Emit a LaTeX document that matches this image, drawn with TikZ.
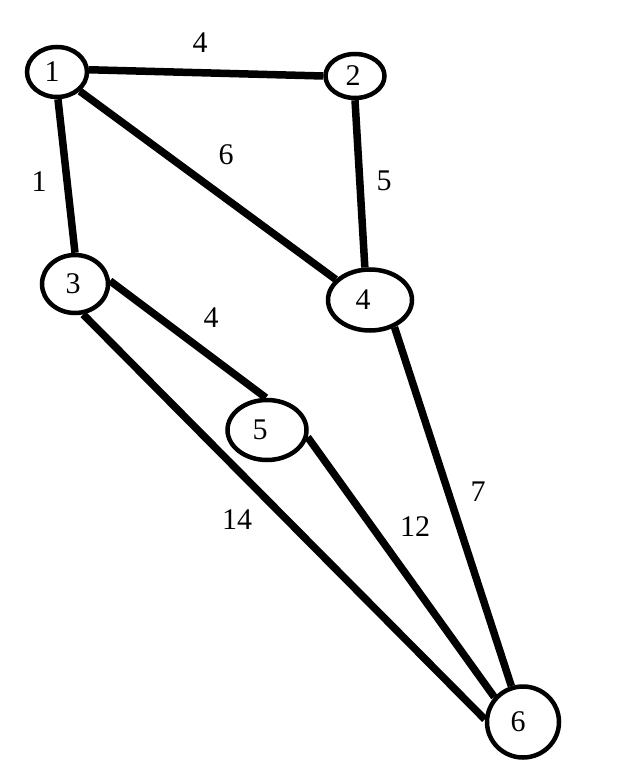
\documentclass[tikz,border=0pt]{standalone}
\usepackage{fontspec}
\setmainfont{Liberation Serif}
\usetikzlibrary{shapes.geometric}
\begin{document}
\begin{tikzpicture}[x=1pt,y=-1pt,
  vertex/.style={draw,ellipse,line width=4.5pt,inner sep=0pt,font=\fontsize{30}{32}\selectfont},
  edge/.style={line width=7.5pt},
  wlabel/.style={font=\fontsize{30}{32}\selectfont,inner sep=0pt}]
\useasboundingbox[fill=white] (0,0) rectangle (621,775);
\node[vertex,minimum width=60pt,minimum height=50pt] (n1) at (57,72) {\kern-10pt 1};
\node[vertex,minimum width=59pt,minimum height=44pt] (n2) at (355,76) {\kern-4pt 2};
\node[vertex,minimum width=66pt,minimum height=58pt] (n3) at (75,284) {\kern-4pt 3};
\node[vertex,minimum width=84pt,minimum height=61pt] (n4) at (370,300) {\kern-14pt 4};
\node[vertex,minimum width=79pt,minimum height=60pt] (n5) at (267,430) {\kern-14pt 5};
\node[vertex,minimum width=72pt,minimum height=71pt] (n6) at (523,722) {\kern-10pt 6};
\draw[edge] (n1.4) -- (n2.180);
\draw[edge] (n1.-88) -- (n3.90);
\draw[edge] (n1.-40) -- (n4.149);
\draw[edge] (n2.-90) -- (n4.99);
\draw[edge] (n3.5) -- (n5.92);
\draw[edge] (n3.-75) -- (n6.176);
\draw[edge] (n5.-10) -- (n6.139);
\draw[edge] (n4.-48) -- (n6.108);
\node[wlabel] (l12) at (200,43) {4};
\node[wlabel] (l13) at (39,182) {1};
\node[wlabel] (l14) at (226,155) {6};
\node[wlabel] (l24) at (384,181) {5};
\node[wlabel] (l35) at (211,318) {4};
\node[wlabel] (l46) at (478,492) {7};
\node[wlabel] (l56) at (415,527) {12};
\node[wlabel] (l36) at (237,520) {14};
\end{tikzpicture}
\end{document}
